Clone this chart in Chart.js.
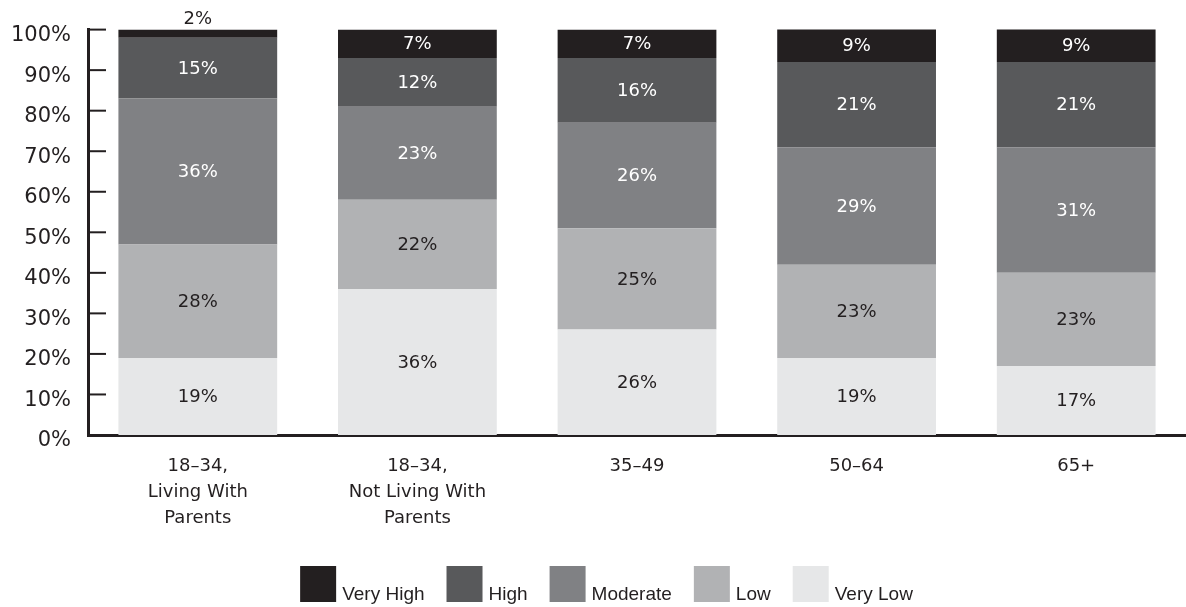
<!DOCTYPE html>
<html>
<head>
<meta charset="utf-8">
<script src="https://cdn.jsdelivr.net/npm/chart.js@4/dist/chart.umd.min.js"></script>
<style>
  html, body { margin: 0; padding: 0; background: #fff; }
  #wrap { width: 1186px; height: 607px; }
</style>
</head>
<body>
<div id="wrap"><canvas id="myChart" width="1186" height="607"></canvas></div>
<script>
// data (percent of each group)
const categories = [
  ['18–34,', 'Living With', 'Parents'],
  ['18–34,', 'Not Living With', 'Parents'],
  '35–49',
  '50–64',
  '65+'
];
const seriesNames = ['Very Low', 'Low', 'Moderate', 'High', 'Very High'];
const veryLow = [19, 36, 26, 19, 17];
const low = [28, 22, 25, 23, 23];
const moderate = [36, 23, 26, 29, 31];
const high = [15, 12, 16, 21, 21];
const veryHigh = [2, 7, 7, 9, 9];

const seriesValues = [veryLow, low, moderate, high, veryHigh];
const seriesColors = ['#e6e7e8', '#b1b2b4', '#808184', '#58595b', '#231f20'];
const labelColors = ['#231f20', '#231f20', '#ffffff', '#ffffff', '#ffffff'];
const ink = '#231f20';
const mainFont = '"DejaVu Sans", "Liberation Sans", sans-serif';
const legendFont = '"Liberation Sans", sans-serif';

// value labels inside each segment (small ones go above the bar)
const segmentLabels = {
  id: 'segmentLabels',
  afterDatasetsDraw(chart) {
    const ctx = chart.ctx;
    const area = chart.chartArea;
    ctx.save();
    ctx.font = '18px ' + mainFont;
    ctx.textAlign = 'center';
    chart.data.datasets.forEach((ds, i) => {
      const meta = chart.getDatasetMeta(i);
      meta.data.forEach((bar, j) => {
        const v = ds.data[j];
        const top = Math.max(Math.min(bar.y, bar.base), area.top);
        const bottom = Math.min(Math.max(bar.y, bar.base), area.bottom);
        const h = bottom - top;
        const text = v + '%';
        if (h < 20) {
          ctx.fillStyle = ink;
          ctx.textBaseline = 'bottom';
          ctx.fillText(text, bar.x, top - 1);
        } else {
          ctx.fillStyle = labelColors[i];
          ctx.textBaseline = 'middle';
          ctx.fillText(text, bar.x, (top + bottom) / 2 + 1);
        }
      });
    });
    ctx.restore();
  }
};

// tick marks pointing into the plot from the y axis
const innerTicks = {
  id: 'innerTicks',
  afterDraw(chart) {
    const ctx = chart.ctx;
    const scale = chart.scales.y;
    ctx.save();
    ctx.strokeStyle = ink;
    ctx.lineWidth = 2;
    scale.ticks.forEach(t => {
      const y = scale.getPixelForValue(t.value);
      ctx.beginPath();
      ctx.moveTo(scale.right, y);
      ctx.lineTo(scale.right + 18, y);
      ctx.stroke();
    });
    ctx.restore();
  }
};

// legend row at the bottom, highest level first
const bottomLegend = {
  id: 'bottomLegend',
  afterDraw(chart) {
    const ctx = chart.ctx;
    const box = 36;
    const textGap = 6;
    const itemGap = 22;
    const boxTop = 566;
    ctx.save();
    ctx.font = '19px ' + legendFont;
    const items = chart.data.datasets.map(ds => ({ label: ds.label, color: ds.backgroundColor })).reverse();
    let total = 0;
    items.forEach((it, k) => {
      it.w = ctx.measureText(it.label).width;
      total += box + textGap + it.w + (k < items.length - 1 ? itemGap : 0);
    });
    let x = 606.5 - total / 2;
    ctx.textAlign = 'left';
    ctx.textBaseline = 'alphabetic';
    items.forEach(it => {
      ctx.fillStyle = it.color;
      ctx.fillRect(x, boxTop, box, box);
      ctx.fillStyle = ink;
      ctx.fillText(it.label, x + box + textGap, boxTop + box - 2);
      x += box + textGap + it.w + itemGap;
    });
    ctx.restore();
  }
};

const data = {
  labels: categories,
  datasets: seriesNames.map((name, i) => ({
    label: name,
    data: seriesValues[i],
    backgroundColor: seriesColors[i],
    borderWidth: 0,
    barPercentage: 0.723,
    categoryPercentage: 1
  }))
};

const config = {
  type: 'bar',
  data: data,
  options: {
    responsive: false,
    animation: false,
    devicePixelRatio: 1,
    layout: { padding: { top: 28, right: -2, left: 0, bottom: 0 } },
    plugins: {
      legend: { display: false },
      tooltip: { enabled: false }
    },
    scales: {
      x: {
        stacked: true,
        grid: { display: false, drawTicks: false },
        border: { display: true, color: ink, width: 3 },
        ticks: {
          color: ink,
          padding: 18,
          maxRotation: 0,
          autoSkip: false,
          font: { family: mainFont, size: 18, lineHeight: 26 / 18 }
        },
        afterFit: (scale) => { scale.height = 172; }
      },
      y: {
        stacked: true,
        min: 0,
        max: 100,
        grid: { display: false, drawTicks: false },
        border: { display: true, color: ink, width: 3 },
        ticks: {
          stepSize: 10,
          color: ink,
          padding: 17,
          labelOffset: 6,
          font: { family: mainFont, size: 21 },
          callback: (v) => v + '%'
        },
        afterFit: (scale) => { scale.width = 88; }
      }
    }
  },
  plugins: [segmentLabels, innerTicks, bottomLegend]
};

const ctx = document.getElementById('myChart');
const myChart = new Chart(ctx, config);
</script>
</body>
</html>
